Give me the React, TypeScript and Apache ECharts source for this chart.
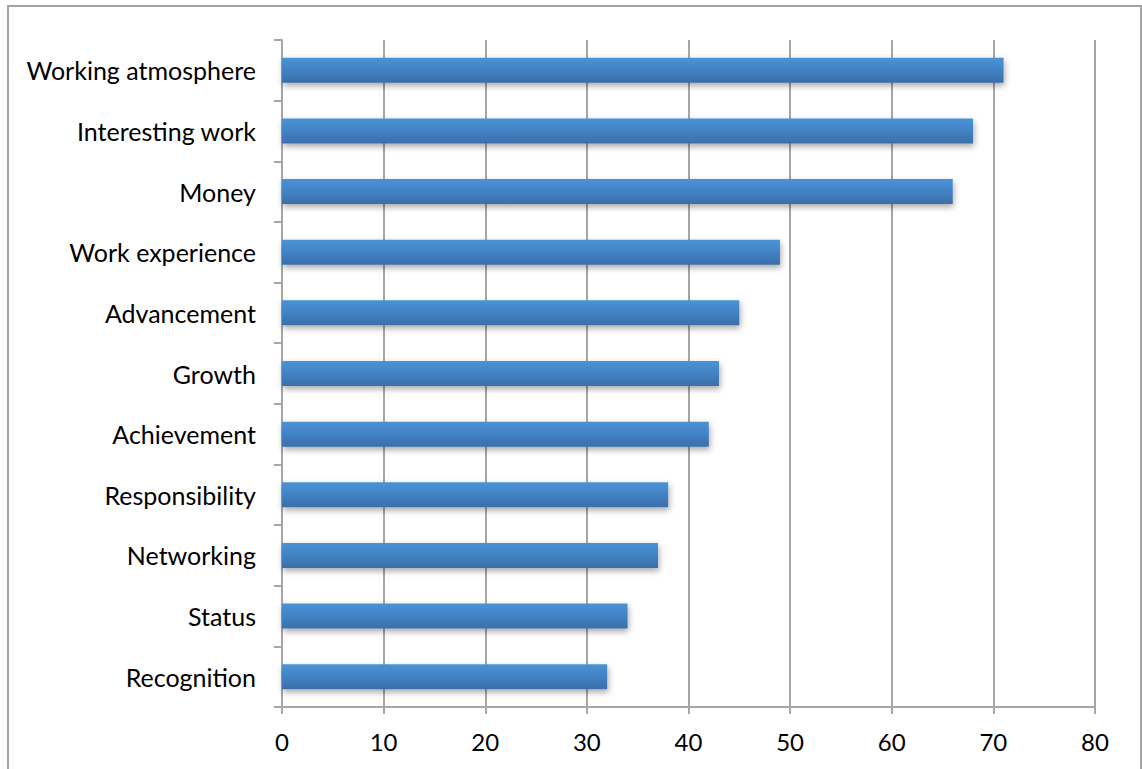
import React, { useEffect, useRef } from "react";
import * as echarts from "echarts";

const categories = [
  "Working atmosphere",
  "Interesting work",
  "Money",
  "Work experience",
  "Advancement",
  "Growth",
  "Achievement",
  "Responsibility",
  "Networking",
  "Status",
  "Recognition",
];
const values = [71, 68, 66, 49, 45, 43, 42, 38, 37, 34, 32];
const xTicks = [0, 10, 20, 30, 40, 50, 60, 70, 80];

export default function App() {
  const ref = useRef<HTMLDivElement>(null);
  useEffect(() => {
    if (!ref.current) return;
    const chart = echarts.init(ref.current, null, { renderer: "svg" });
    const font = "Lato, 'Open Sans', sans-serif";
    chart.setOption({
      animation: false,
      backgroundColor: "#ffffff",
      graphic: [
        {
          type: "rect",
          shape: { x: 8, y: 6, width: 1133, height: 800 },
          style: { fill: "none", stroke: "#a3a3a3", lineWidth: 2 },
          silent: true,
        },
      ],
      grid: { left: 282, right: 47, top: 40, bottom: 62, containLabel: false },
      xAxis: {
        type: "value",
        min: xTicks[0],
        max: xTicks[xTicks.length - 1],
        interval: 10,
        axisLine: { show: true, lineStyle: { color: "#a6a6a6", width: 2 } },
        axisTick: { show: true, length: 7, lineStyle: { color: "#a6a6a6", width: 2 } },
        splitLine: { show: true, lineStyle: { color: "#a6a6a6", width: 2 } },
        axisLabel: { color: "#000", fontSize: 24, fontFamily: font, margin: 22 },
      },
      yAxis: {
        type: "category",
        data: categories,
        inverse: true,
        axisLine: { show: true, lineStyle: { color: "#a6a6a6", width: 2 } },
        axisTick: { show: true, length: 8, lineStyle: { color: "#a6a6a6", width: 2 } },
        axisLabel: { color: "#000", fontSize: 25, fontFamily: font, margin: 26 },
      },
      series: [
        {
          type: "bar",
          data: values,
          barWidth: 25,
          itemStyle: {
            color: new echarts.graphic.LinearGradient(0, 0, 0, 1, [
              { offset: 0, color: "#4a93d6" },
              { offset: 0.5, color: "#4282c4" },
              { offset: 1, color: "#3a6ea8" },
            ]),
            shadowColor: "rgba(0,0,0,0.35)",
            shadowBlur: 6,
            shadowOffsetY: 3,
            shadowOffsetX: 1,
          },
        },
      ],
    });
    return () => chart.dispose();
  }, []);
  return (
    <div
      ref={ref}
      style={{ position: "fixed", left: 0, top: 0, width: 1142, height: 769 }}
    />
  );
}
